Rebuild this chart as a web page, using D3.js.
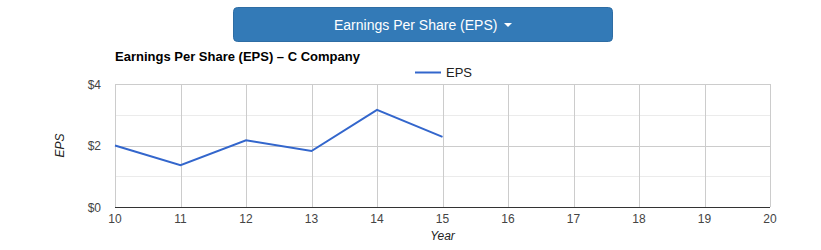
<!DOCTYPE html>
<html>
<head>
<meta charset="utf-8">
<script src="https://d3js.org/d3.v7.min.js"></script>
<style>
  body { margin: 0; background: #fff; font-family: Arial, "Liberation Sans", sans-serif; }
</style>
</head>
<body>
<div id="vis"></div>
<script>
// chart data
let years = [10, 11, 12, 13, 14, 15]
let eps = [2.0, 1.36, 2.17, 1.82, 3.16, 2.28]
let xTicks = [10, 11, 12, 13, 14, 15, 16, 17, 18, 19, 20]
let yTicks = [0, 2, 4]
let yMinor = [1, 3]

let svg = d3.select("#vis")
    .append('svg')
    .attr('width', 821)
    .attr('height', 250)

// dropdown button on top
let btn = svg.append('g')
btn.append('rect')
    .attr('x', 233.5).attr('y', 7.5)
    .attr('width', 379).attr('height', 34)
    .attr('rx', 4)
    .attr('fill', '#337ab7')
    .attr('stroke', '#2e6da4')
btn.append('text')
    .attr('x', 334).attr('y', 29.5)
    .attr('fill', '#fff')
    .style('font-size', '14px')
    .text('Earnings Per Share (EPS)')
btn.append('path')
    .attr('d', 'M504,23 L512,23 L508,27 Z')
    .attr('fill', '#fff')

let plotL = 115, plotR = 770, plotT = 84, plotB = 207

let x = d3.scaleLinear().domain([10, 20]).range([plotL, plotR])
let y = d3.scaleLinear().domain([0, 4]).range([plotB, plotT])

// title
svg.append('text')
    .attr('x', plotL).attr('y', 61)
    .style('font-size', '13px')
    .style('font-weight', 'bold')
    .attr('fill', '#000')
    .text('Earnings Per Share (EPS) \u2013 C Company')

// legend
svg.append('line')
    .attr('x1', 415).attr('x2', 441)
    .attr('y1', 72.5).attr('y2', 72.5)
    .attr('stroke', '#3366cc').attr('stroke-width', 2)
svg.append('text')
    .attr('x', 446).attr('y', 77)
    .style('font-size', '13px')
    .attr('fill', '#222')
    .text('EPS')

// minor gridlines
svg.selectAll('.minor')
    .data(yMinor)
    .enter().append('line')
    .attr('x1', plotL).attr('x2', plotR)
    .attr('y1', d => Math.round(y(d)) + 0.5)
    .attr('y2', d => Math.round(y(d)) + 0.5)
    .attr('stroke', '#ebebeb')

// major horizontal gridlines
svg.selectAll('.hgrid')
    .data(yTicks.filter(d => d > 0))
    .enter().append('line')
    .attr('x1', plotL).attr('x2', plotR)
    .attr('y1', d => Math.round(y(d)) + 0.5)
    .attr('y2', d => Math.round(y(d)) + 0.5)
    .attr('stroke', '#cccccc')

// vertical gridlines
svg.selectAll('.vgrid')
    .data(xTicks)
    .enter().append('line')
    .attr('x1', d => Math.round(x(d)) + 0.5)
    .attr('x2', d => Math.round(x(d)) + 0.5)
    .attr('y1', plotT).attr('y2', plotB)
    .attr('stroke', '#cccccc')

// baseline
svg.append('line')
    .attr('x1', plotL).attr('x2', plotR)
    .attr('y1', plotB + 0.5).attr('y2', plotB + 0.5)
    .attr('stroke', '#333')

// y tick labels
svg.selectAll('.ylab')
    .data(yTicks)
    .enter().append('text')
    .attr('x', plotL - 14)
    .attr('y', d => y(d) + 4.5)
    .attr('text-anchor', 'end')
    .style('font-size', '12px')
    .attr('fill', '#444')
    .text(d => '$' + d)

// x tick labels
svg.selectAll('.xlab')
    .data(xTicks)
    .enter().append('text')
    .attr('x', d => x(d))
    .attr('y', 223)
    .attr('text-anchor', 'middle')
    .style('font-size', '12px')
    .attr('fill', '#444')
    .text(d => d)

// axis titles
svg.append('text')
    .attr('x', (plotL + plotR) / 2)
    .attr('y', 240)
    .attr('text-anchor', 'middle')
    .style('font-size', '12px')
    .style('font-style', 'italic')
    .attr('fill', '#222')
    .text('Year')
svg.append('text')
    .attr('transform', 'translate(64,' + ((plotT + plotB) / 2) + ') rotate(-90)')
    .attr('text-anchor', 'middle')
    .style('font-size', '12px')
    .style('font-style', 'italic')
    .attr('fill', '#222')
    .text('EPS')

// the series
let line = d3.line()
    .x((d, i) => x(years[i]))
    .y(d => y(d))
svg.append('path')
    .datum(eps)
    .attr('d', line)
    .attr('fill', 'none')
    .attr('stroke', '#3366cc')
    .attr('stroke-width', 2)
</script>
</body>
</html>
